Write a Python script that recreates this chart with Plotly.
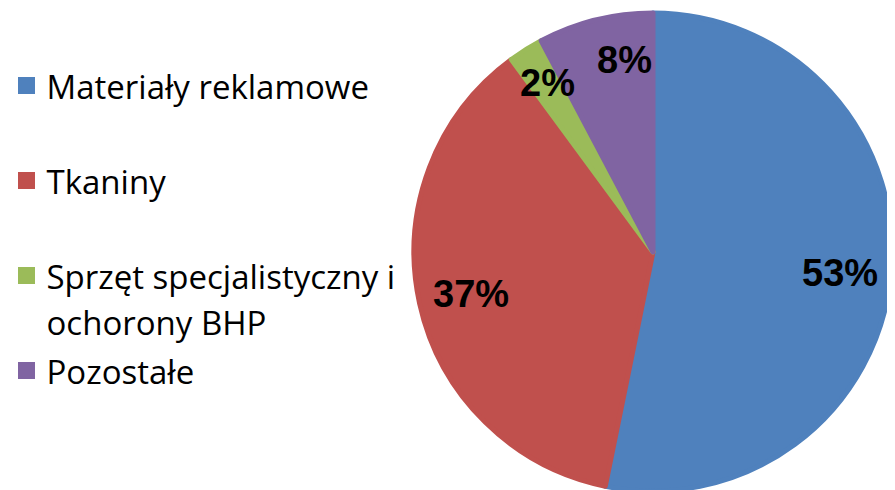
import math
import plotly.graph_objects as go

# ---- data ----
categories = ["Materiały reklamowe", "Tkaniny", "Sprzęt specjalistyczny i ochorony BHP", "Pozostałe"]
legend_lines = [["Materiały reklamowe", "\u00a0"],
                ["Tkaniny", "\u00a0"],
                ["Sprzęt specjalistyczny i", "ochorony BHP"],
                ["Pozostałe", "\u00a0"]]
values = [53.2, 36.7, 2.35, 7.75]
colors = ["#4F81BD", "#C0504D", "#9BBB59", "#8064A2"]

# ---- style (label placement nudges, not data) ----
label_rfrac = [0.78, 0.775, 0.82, 0.80]
label_dang = [1.0, -1.0, 0.0, 5.5]

W, H = 895, 490
OFF = 8  # page body margin in the browser
MT, MB, ML, MR = 4.5, 6.5, 0, 0
LW = 5
dom_x = [405.5 / W, 884.5 / W]

legend_text = ["<br>".join('<span style="font-size:33px">%s</span>' % s for s in lines)
               for lines in legend_lines]

fig = go.Figure(go.Pie(
    labels=legend_text,
    values=values,
    marker=dict(colors=colors, line=dict(color=colors, width=LW)),
    sort=False,
    direction="clockwise",
    rotation=0,
    textinfo="none",
    hovertext=categories,
    hoverinfo="text+percent",
    domain=dict(x=dom_x, y=[0, 1]),
))

# label positions derived from slice mid-angles
pw, ph = W - ML - MR, H - MT - MB
r_px = min((dom_x[1] - dom_x[0]) * pw, ph) / 2 + LW / 2
cx = (dom_x[0] + dom_x[1]) / 2 * pw
cy = ph / 2
total = sum(values)
cum = 0
annotations = []
for v, rf, da in zip(values, label_rfrac, label_dang):
    mid = (cum + v / 2) / total * 2 * math.pi + math.radians(da)
    cum += v
    x = cx + rf * r_px * math.sin(mid)
    y = cy + rf * r_px * math.cos(mid) + 1
    annotations.append(dict(
        x=x / pw, y=y / ph, xref="paper", yref="paper",
        text="%d%%" % round(v / total * 100), showarrow=False,
        font=dict(family="Liberation Sans", size=38, color="black", weight="bold"),
        xanchor="center", yanchor="middle",
    ))

fig.update_layout(
    width=W, height=H,
    margin=dict(l=ML, r=MR, t=MT, b=MB, pad=0, autoexpand=False),
    paper_bgcolor="white", plot_bgcolor="white",
    showlegend=True,
    legend=dict(
        x=(6.5 - OFF) / W, xanchor="left",
        y=1 - (55.5 - OFF - MT) / ph, yanchor="top",
        valign="top",
        font=dict(family="Open Sans", size=35.4, color="black"),
        bgcolor="rgba(0,0,0,0)", borderwidth=0,
    ),
    annotations=annotations,
)

fig.write_html("out.html")
